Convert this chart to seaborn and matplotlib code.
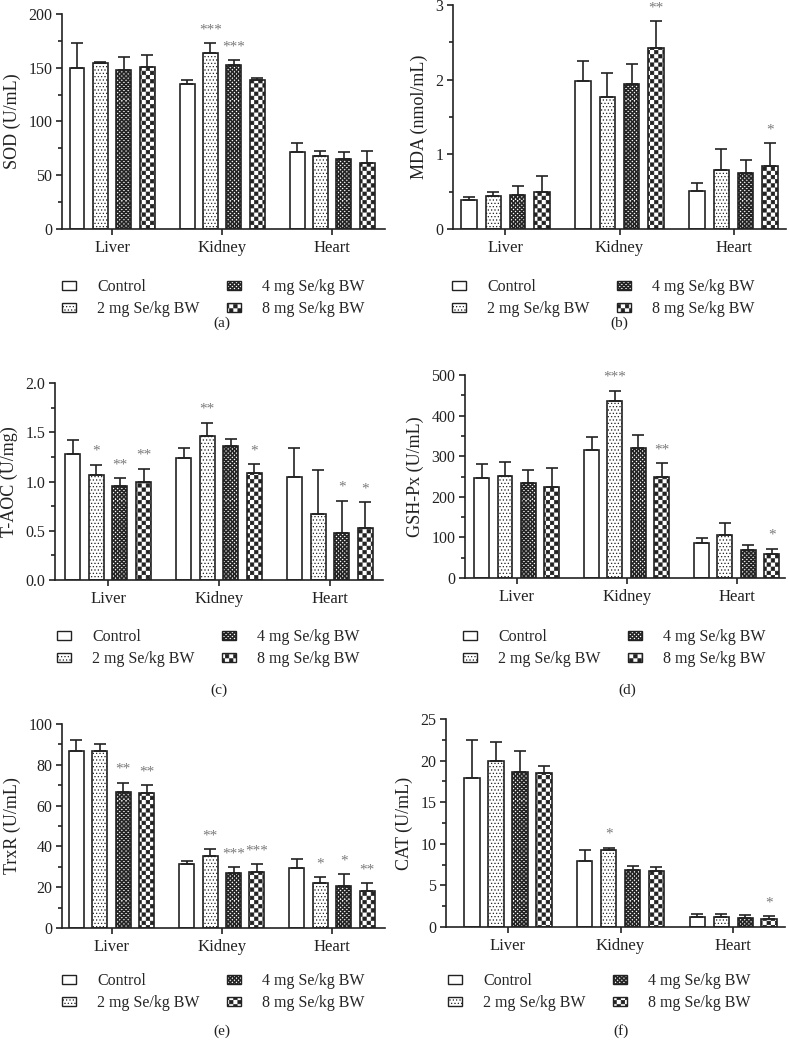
import numpy as np
import pandas as pd
import matplotlib
matplotlib.use("Agg")
import matplotlib.pyplot as plt
import matplotlib.hatch as mhatch
from matplotlib.path import Path
from matplotlib.patches import Patch
from matplotlib.ticker import MultipleLocator, FormatStrFormatter
import seaborn as sns

tissues = ["Liver", "Kidney", "Heart"]
groups = ["Control", "2 mg Se/kg BW", "4 mg Se/kg BW", "8 mg Se/kg BW"]

# mean and SD, one row per tissue, one column per group
sod_mean = [[149.8, 154.4, 147.6, 150.4], [135.2, 163.4, 152.2, 138.3], [71.3, 68.2, 65.1, 61.4]]
sod_sd = [[23.0, 1.2, 12.4, 11.6], [3.8, 9.3, 4.7, 2.5], [8.4, 4.7, 6.5, 11.2]]
sod_sig = [["", "", "", ""], ["", "***", "***", ""], ["", "", "", ""]]

mda_mean = [[0.39, 0.446, 0.455, 0.495], [1.98, 1.763, 1.94, 2.42], [0.51, 0.795, 0.754, 0.84]]
mda_sd = [[0.04, 0.044, 0.125, 0.21], [0.265, 0.32, 0.27, 0.36], [0.11, 0.275, 0.166, 0.31]]
mda_sig = [["", "", "", ""], ["", "", "", "**"], ["", "", "", "*"]]

taoc_mean = [[1.28, 1.07, 0.952, 0.99], [1.24, 1.466, 1.36, 1.084], [1.042, 0.672, 0.473, 0.527]]
taoc_sd = [[0.145, 0.10, 0.083, 0.14], [0.10, 0.13, 0.07, 0.09], [0.30, 0.44, 0.33, 0.26]]
taoc_sig = [["", "*", "**", "**"], ["", "**", "", "*"], ["", "", "*", "*"]]

gsh_mean = [[246, 251, 234, 223], [316, 436, 319, 248], [86, 107, 70, 60]]
gsh_sd = [[35, 35, 31, 48], [31, 25, 33, 35], [12, 29, 11, 12]]
gsh_sig = [["", "", "", ""], ["", "***", "", "**"], ["", "", "", "*"]]

trxr_mean = [[87.0, 87.0, 66.6, 66.1], [31.3, 35.1, 26.8, 27.6], [29.2, 22.0, 20.6, 18.3]]
trxr_sd = [[5.0, 3.0, 4.7, 4.0], [1.5, 3.4, 2.9, 3.6], [4.4, 3.0, 5.7, 3.7]]
trxr_sig = [["", "", "**", "**"], ["", "**", "***", "***"], ["", "*", "*", "**"]]

cat_mean = [[17.9, 19.9, 18.6, 18.5], [7.9, 9.28, 6.84, 6.72], [1.2, 1.2, 1.04, 0.96]]
cat_sd = [[4.6, 2.3, 2.5, 0.9], [1.3, 0.22, 0.46, 0.44], [0.36, 0.32, 0.36, 0.32]]
cat_sig = [["", "", "", ""], ["", "*", "", ""], ["", "", "", "*"]]


# checkerboard hatch: filled squares, used for every "*" in a hatch string
class CheckerHatch(mhatch.HatchPatternBase):
    def __init__(self, hatch, density):
        self.n = hatch.count("*") * density
        self.num_vertices = (self.n * self.n // 2) * 5

    def set_vertices_and_codes(self, vertices, codes):
        s = 1.0 / self.n
        # coarse checks get shrunk a little so the hatch stroke doesn't darken them
        d = 0.0035 if self.n < 40 else 0.0
        k = 0
        for i in range(self.n):
            for j in range(self.n):
                if (i + j) % 2 == 0:
                    a, b = i * s + d, j * s + d
                    c = s - 2 * d
                    vertices[k:k + 5] = [(a, b), (a + c, b), (a + c, b + c), (a, b + c), (a, b)]
                    codes[k:k + 5] = [Path.MOVETO, Path.LINETO, Path.LINETO, Path.LINETO, Path.CLOSEPOLY]
                    k += 5


mhatch._hatch_types = [t for t in mhatch._hatch_types if t is not mhatch.Stars] + [CheckerHatch]

sns.set_style("ticks")
plt.rcParams["font.family"] = ["Liberation Serif", "DejaVu Serif"]
plt.rcParams["hatch.linewidth"] = 0.5
plt.rcParams["hatch.color"] = "#222222"

hatches = ["", ".....", "********", "****"]
ink = "#222222"
W, H = 789, 1047

panels = [
    # data, ylabel, ymax, major step, letter
    (sod_mean, sod_sd, sod_sig, "SOD (U/mL)", 200, 50, "(a)"),
    (mda_mean, mda_sd, mda_sig, "MDA (nmol/mL)", 3, 1, "(b)"),
    (taoc_mean, taoc_sd, taoc_sig, "T-AOC (U/mg)", 2.0, 0.5, "(c)"),
    (gsh_mean, gsh_sd, gsh_sig, "GSH-Px (U/mL)", 500, 100, "(d)"),
    (trxr_mean, trxr_sd, trxr_sig, "TrxR (U/mL)", 100, 20, "(e)"),
    (cat_mean, cat_sd, cat_sig, "CAT (U/mL)", 25, 5, "(f)"),
]

# layout in pixels: axes box (x0, x1, ytop, ybottom), xlim, legend anchor, letter position
layout = [
    ((62, 385, 14, 229), (-0.455, 2.48), (62, 298), (222, 323)),
    ((453, 786, 5, 229), (-0.46, 2.46), (452, 298), (619, 323)),
    ((55, 383, 383, 580), (-0.48, 2.48), (57, 648), (219, 690)),
    ((465, 785, 375, 578), (-0.47, 2.44), (463, 648), (627, 690)),
    ((62, 385, 724, 928), (-0.45, 2.48), (62, 992), (222, 1031)),
    ((446, 785, 719, 927), (-0.55, 2.46), (448, 992), (621, 1031)),
]

fig = plt.figure(figsize=(W / 100, H / 100), dpi=100)

for (mean, sd, sig, ylabel, ymax, major, letter), (box, xlim, leg, lab) in zip(panels, layout):
    x0, x1, y0, y1 = box
    ax = fig.add_axes([x0 / W, 1 - y1 / H, (x1 - x0) / W, (y1 - y0) / H])

    df = pd.DataFrame({
        "tissue": np.repeat(tissues, len(groups)),
        "group": groups * len(tissues),
        "value": np.ravel(mean),
    })
    sns.barplot(data=df, x="tissue", y="value", hue="group", order=tissues, hue_order=groups,
                errorbar=None, palette=["white"] * 4, edgecolor=ink, linewidth=1.2,
                width=0.85, gap=0.36, legend=False, ax=ax)

    bar_groups = list(ax.containers)
    for g, cont in enumerate(bar_groups):
        xs = []
        for bar in cont:
            bar.set_hatch(hatches[g])
            xs.append(bar.get_x() + bar.get_width() / 2)
        m = np.array([row[g] for row in mean])
        e = np.array([row[g] for row in sd])
        ax.errorbar(xs, m, yerr=[np.zeros_like(e), e], fmt="none", ecolor=ink,
                    elinewidth=1.2, capsize=4, capthick=1.2, zorder=1)
        for t in range(len(tissues)):
            if sig[t][g]:
                ax.annotate(sig[t][g], (xs[t], m[t] + e[t]), xytext=(0, 5), textcoords="offset points",
                            ha="center", va="bottom", fontsize=11, color="#7a7a7a")

    ax.set_xlim(*xlim)
    ax.set_ylim(0, ymax)
    ax.yaxis.set_major_locator(MultipleLocator(major))
    ax.yaxis.set_minor_locator(MultipleLocator(major / 2))
    if major < 1:
        ax.yaxis.set_major_formatter(FormatStrFormatter("%.1f"))
    ax.set_xlabel("")
    ax.set_ylabel(ylabel, fontsize=13, color=ink, labelpad=5)
    sns.despine(ax=ax)
    for s in ["left", "bottom"]:
        ax.spines[s].set_linewidth(1.2)
        ax.spines[s].set_color(ink)
    ax.tick_params(axis="y", which="major", length=4, width=1.2, color=ink, labelsize=11.5,
                   labelcolor=ink, pad=3)
    ax.tick_params(axis="x", which="major", length=4, width=1.2, color=ink, labelsize=12,
                   labelcolor=ink, pad=4)
    ax.tick_params(axis="y", which="minor", length=3, width=1.2, color=ink)
    ax.tick_params(axis="x", which="minor", length=0)

    handles = [Patch(facecolor="white", edgecolor=ink, hatch=h, linewidth=1.0) for h in hatches]
    fig.legend(handles, groups, loc="center left", bbox_to_anchor=(leg[0] / W, 1 - leg[1] / H),
               ncol=2, frameon=False, fontsize=11.5, handlelength=0.9, handleheight=0.5,
               handletextpad=1.3, columnspacing=1.7, labelspacing=0.4, borderpad=0, borderaxespad=0)
    fig.text(lab[0] / W, 1 - lab[1] / H, letter, ha="center", va="center", fontsize=11, color=ink)

fig.savefig("out.png", dpi=100)
